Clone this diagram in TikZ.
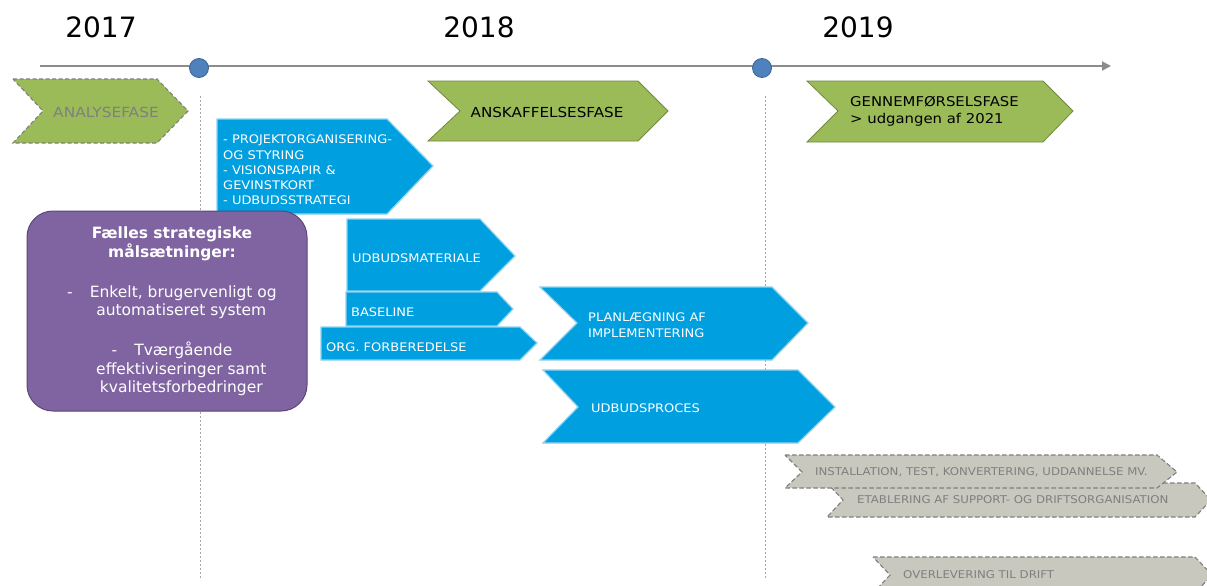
\documentclass[tikz,border=0pt]{standalone}
\usepackage{fontspec}
\setmainfont{DejaVu Sans}
\newfontfamily\wide[FakeStretch=1.1]{DejaVu Sans}
\usetikzlibrary{arrows.meta}
\definecolor{grn}{HTML}{9BBB59}
\definecolor{grnd}{HTML}{71893F}
\definecolor{blu}{HTML}{009FE0}
\definecolor{blul}{HTML}{8ED2F0}
\definecolor{purp}{HTML}{8064A2}
\definecolor{purpd}{HTML}{5C4776}
\definecolor{gry}{HTML}{C9C8BF}
\definecolor{gryd}{HTML}{7F7F7F}
\definecolor{dotc}{HTML}{A6A6A6}
\definecolor{circ}{HTML}{4F81BD}
\definecolor{circd}{HTML}{3A6496}
\definecolor{axis}{HTML}{8C8C8C}
\tikzset{
  greenbox/.style={fill=grn, draw=grnd, line width=0.8pt, line join=miter},
  greendash/.style={fill=grn, draw=gryd, line width=1.1pt, dash pattern=on 4pt off 2.5pt},
  bluebox/.style={fill=blu, draw=blul, line width=1.2pt},
  graybox/.style={fill=gry, draw=gryd, line width=1.1pt, dash pattern=on 4.5pt off 2.5pt},
  purpbox/.style={fill=purp, draw=purpd, line width=1pt, rounded corners=26pt},
  yearlbl/.style={font=\fontsize{28}{32}\selectfont, anchor=center, inner sep=0pt},
  lbl/.style={inner sep=0pt, anchor=west, align=left},
  bluetxt/.style={lbl, text=white, font=\wide\fontsize{11.8}{15.2}\selectfont},
  graytxt/.style={lbl, text=gryd, font=\wide\fontsize{10.7}{13}\selectfont},
  grntxt/.style={lbl, text=black, font=\wide\fontsize{13.8}{17}\selectfont},
  vdot/.style={draw=dotc, line width=1pt, dash pattern=on 2pt off 2pt},
  mile/.style={circle, fill=circ, draw=circd, line width=0.8pt, minimum size=19pt, inner sep=0pt},
}
\begin{document}
\begin{tikzpicture}[x=1pt,y=-1pt]
\useasboundingbox (0,0) rectangle (1207,586);
\fill[white] (0,0) rectangle (1207,586);

% years
\node[yearlbl] (y17) at (101,27) {2017};
\node[yearlbl] (y18) at (479,27) {2018};
\node[yearlbl] (y19) at (858,27) {2019};

% timeline
\coordinate (tl0) at (40,66);
\coordinate (tl1) at (1111,66);
\draw[axis, line width=1.8pt, -{Triangle[length=9pt,width=9pt]}] (tl0) -- (tl1);

% vertical dotted lines
\coordinate (v1a) at (200,96); \coordinate (v1b) at (200,580);
\coordinate (v2a) at (765,96); \coordinate (v2b) at (765,580);
\draw[vdot] (v1a) -- (v1b);
\draw[vdot] (v2a) -- (v2b);

% milestones
\node[mile] (m1) at (199,68) {};
\node[mile] (m2) at (762,68) {};

% green phases
\draw[greendash] (13,79) -- (157,79) -- (188,111) -- (157,143) -- (13,143) -- (43,111) -- cycle;
\node[lbl, text=gryd, font=\wide\fontsize{14}{17}\selectfont, anchor=center] (analyse) at (106,112) {ANALYSEFASE};

\draw[greenbox] (428,81) -- (638,81) -- (668,111) -- (638,141) -- (428,141) -- (460,111) -- cycle;
\node[grntxt, anchor=center] (anskaf) at (547,112) {ANSKAFFELSESFASE};

\draw[greenbox] (807,81) -- (1043,81) -- (1073,111) -- (1043,142) -- (807,142) -- (838,111) -- cycle;
\node[grntxt, font=\wide\fontsize{13.5}{16.5}\selectfont] (gennem) at (850,111.5) {GENNEMFØRSELSFASE\\> udgangen af 2021};

% blue tasks
\draw[bluebox] (217,119) -- (387,119) -- (433,166) -- (387,214) -- (217,214) -- cycle;
\node[bluetxt] (proj) at (223,170) {- PROJEKTORGANISERING-\\OG STYRING\\- VISIONSPAPIR \&\\GEVINSTKORT\\- UDBUDSSTRATEGI};

\draw[bluebox] (347,219) -- (480,219) -- (515,256) -- (480,291) -- (347,291) -- cycle;
\node[bluetxt] (udmat) at (352,258) {UDBUDSMATERIALE};

\draw[bluebox] (346,292) -- (497,292) -- (513,309) -- (497,326) -- (346,326) -- cycle;
\node[bluetxt] (base) at (351,312) {BASELINE};

\draw[bluebox] (321,327) -- (520,327) -- (537,343) -- (520,360) -- (321,360) -- cycle;
\node[bluetxt] (org) at (326,347) {ORG. FORBEREDELSE};

\draw[bluebox] (540,287) -- (772,287) -- (808,323) -- (772,360) -- (540,360) -- (577,323) -- cycle;
\node[bluetxt, font=\wide\fontsize{11.8}{16}\selectfont] (plan) at (588,325) {PLANLÆGNING AF\\IMPLEMENTERING};

\draw[bluebox] (543,370) -- (798,370) -- (835,407) -- (798,443) -- (543,443) -- (578,407) -- cycle;
\node[bluetxt] (udproc) at (591,408) {UDBUDSPROCES};

% purple goals box
\draw[purpbox] (27,211) rectangle (307,411);
\node[inner sep=0pt, align=center, text=white, font=\fontsize{15.5}{18.5}\selectfont] (goals) at (172,311.5)
  {\textbf{Fælles strategiske}\\\textbf{målsætninger:}\\[21.5pt]
   -\hspace{1.1em}Enkelt, brugervenligt og\\\hspace*{1.2em}automatiseret system\\[21.5pt]
   -\hspace{1.1em}Tværgående\\\hspace*{1.2em}effektiviseringer samt\\\hspace*{1.2em}kvalitetsforbedringer};

% gray tasks
\draw[graybox] (827,483) -- (1195,483) -- (1211,500) -- (1195,517) -- (827,517) -- (843,500) -- cycle;
\node[graytxt] (etab) at (857,500) {ETABLERING AF SUPPORT- OG DRIFTSORGANISATION};

\draw[graybox] (785,455) -- (1157,455) -- (1177,472) -- (1157,488) -- (785,488) -- (802,472) -- cycle;
\node[graytxt] (inst) at (815,472) {INSTALLATION, TEST, KONVERTERING, UDDANNELSE MV.};

\draw[graybox] (873,557) -- (1195,557) -- (1212,575) -- (1195,593) -- (873,593) -- (890,575) -- cycle;
\node[graytxt] (overl) at (903,575) {OVERLEVERING TIL DRIFT};
\end{tikzpicture}
\end{document}
